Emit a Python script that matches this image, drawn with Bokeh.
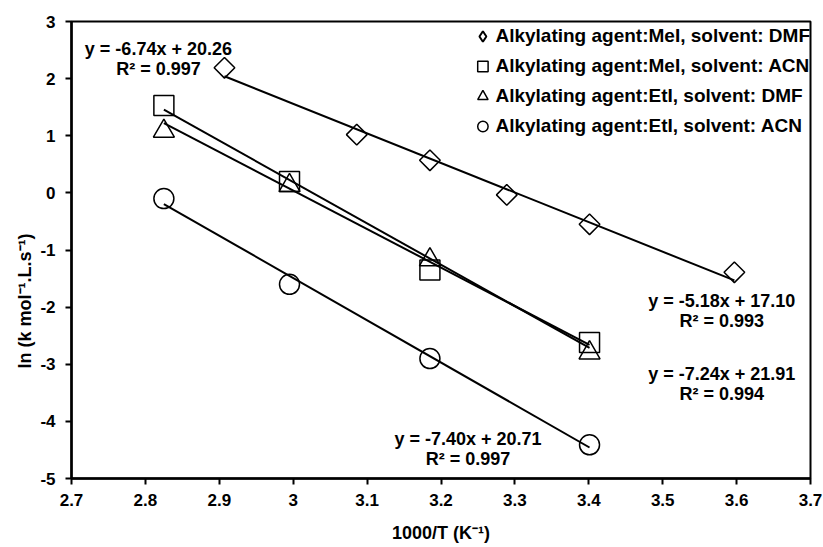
import numpy as np
from bokeh.plotting import figure
from bokeh.models import Range1d, FixedTicker, CustomJSTickFormatter, Title, ColumnDataSource
from bokeh.core.properties import value
from bokeh.embed import file_html
from bokeh.resources import INLINE

FONT = "Liberation Sans"

# ---- data ----
x_mei_dmf = [2.907, 3.086, 3.185, 3.289, 3.401, 3.597]
y_mei_dmf = [2.19, 1.02, 0.57, -0.035, -0.55, -1.39]

x_mei_acn = [2.825, 2.995, 3.185, 3.401]
y_mei_acn = [1.53, 0.20, -1.35, -2.62]

x_eti_dmf = [2.825, 2.995, 3.185, 3.401]
y_eti_dmf = [1.08, 0.13, -1.17, -2.80]

x_eti_acn = [2.825, 2.995, 3.185, 3.401]
y_eti_acn = [-0.10, -1.60, -2.90, -4.41]

series_names = [
    "Alkylating agent:MeI, solvent: DMF",
    "Alkylating agent:MeI, solvent: ACN",
    "Alkylating agent:EtI, solvent: DMF",
    "Alkylating agent:EtI, solvent: ACN",
]
slopes = [-5.18, -7.24, -6.74, -7.40]
intercepts = [17.10, 21.91, 20.26, 20.71]
r2_values = ["0.993", "0.994", "0.997", "0.997"]

x_ticks = [2.7, 2.8, 2.9, 3.0, 3.1, 3.2, 3.3, 3.4, 3.5, 3.6, 3.7]
y_ticks = [-5, -4, -3, -2, -1, 0, 1, 2, 3]

# ---- figure ----
p = figure(width=823, height=547, x_range=Range1d(2.7, 3.7), y_range=Range1d(-5, 3),
           output_backend="svg", toolbar_location=None,
           min_border_left=71, min_border_right=13, min_border_top=21, min_border_bottom=69)
p.xgrid.visible = False
p.ygrid.visible = False
p.outline_line_color = "black"
p.outline_line_width = 2
p.background_fill_color = "white"
p.border_fill_color = "white"

fmt = CustomJSTickFormatter(code="return (Math.round(tick*10)/10).toString();")
for ax, ticks in ((p.xaxis[0], x_ticks), (p.yaxis[0], y_ticks)):
    ax.ticker = FixedTicker(ticks=ticks)
    ax.formatter = fmt
    ax.axis_line_width = 2.5
    ax.axis_line_color = "black"
    ax.major_tick_line_width = 2
    ax.major_tick_line_color = "black"
    ax.major_tick_in = 0
    ax.major_tick_out = 6
    ax.minor_tick_line_color = None
    ax.major_label_text_font = FONT
    ax.major_label_text_font_style = "bold"
    ax.major_label_text_font_size = "17px"
    ax.major_label_text_color = "black"

p.xaxis[0].major_label_standoff = 9
p.yaxis[0].major_label_standoff = 10
p.xaxis[0].axis_label = "1000/T (K\u207b\u00b9)"
p.xaxis[0].axis_label_text_font = FONT
p.xaxis[0].axis_label_text_font_style = "bold"
p.xaxis[0].axis_label_text_font_size = "18px"
p.xaxis[0].axis_label_standoff = 14
p.xaxis[0].axis_label_text_color = "black"

# ---- y axis title, placed in the left panel ----
ytitle = Title(text="ln (k mol\u207b\u00b9.L.s\u207b\u00b9)", align="left", offset=110,
               text_font=FONT, text_font_style="bold", text_font_size="18px",
               text_color="black", standoff=6)
p.add_layout(ytitle, "left")

# ---- markers ----
mk = dict(fill_color=None, line_color="black", line_width=1.5)
# legend-only entry for the diamond series (legend ignores marker rotation)
p.scatter([np.nan], [np.nan], marker="diamond", size=14, legend_label=series_names[0],
          fill_color=None, line_color="black", line_width=2)
r1 = p.scatter(x_mei_dmf, y_mei_dmf, marker="square", angle=np.pi / 4, size=14.6, **mk)
r2 = p.scatter(x_mei_acn, y_mei_acn, marker="square", size=20,
               legend_label=series_names[1], **mk)
r3 = p.scatter(x_eti_dmf, y_eti_dmf, marker="triangle", size=21,
               legend_label=series_names[2], **mk)
r4 = p.scatter(x_eti_acn, y_eti_acn, marker="circle", size=20,
               legend_label=series_names[3], **mk)

# ---- trend lines ----
xs_all = [x_mei_dmf, x_mei_acn, x_eti_dmf, x_eti_acn]
for xs, m, b in zip(xs_all, slopes, intercepts):
    xe = np.array([min(xs), max(xs)])
    p.line(xe, m * xe + b, line_color="black", line_width=2)

# ---- equation labels ----
eq_x = [3.580, 3.580, 2.8176, 3.2365]
eq_y = [-1.90, -3.163, 2.521, -4.30]
eq_y2 = [-2.235, -3.514, 2.17, -4.654]
eq_text = ["y = %.2fx + %.2f" % (m, b) for m, b in zip(slopes, intercepts)]
r2_text = ["R\u00b2 = " + r for r in r2_values]
src = ColumnDataSource(dict(x=eq_x + eq_x, y=eq_y + eq_y2, t=eq_text + r2_text))
p.text(x="x", y="y", text="t", source=src, text_font=value(FONT), text_font_style="bold",
       text_font_size="18px", text_align="center", text_baseline="middle", text_color="black")

# ---- legend ----
lg = p.legend[0]
lg.location = "top_right"
lg.margin = 0
lg.padding = 6
lg.glyph_width = 26
lg.glyph_height = 30
lg.label_height = 18
lg.spacing = -9
lg.label_standoff = -4
lg.border_line_color = None
lg.background_fill_alpha = 0
lg.label_text_font = FONT
lg.label_text_font_style = "bold"
lg.label_text_font_size = "19px"
lg.label_text_color = "black"

open("out.html", "w").write(file_html(p, INLINE))
